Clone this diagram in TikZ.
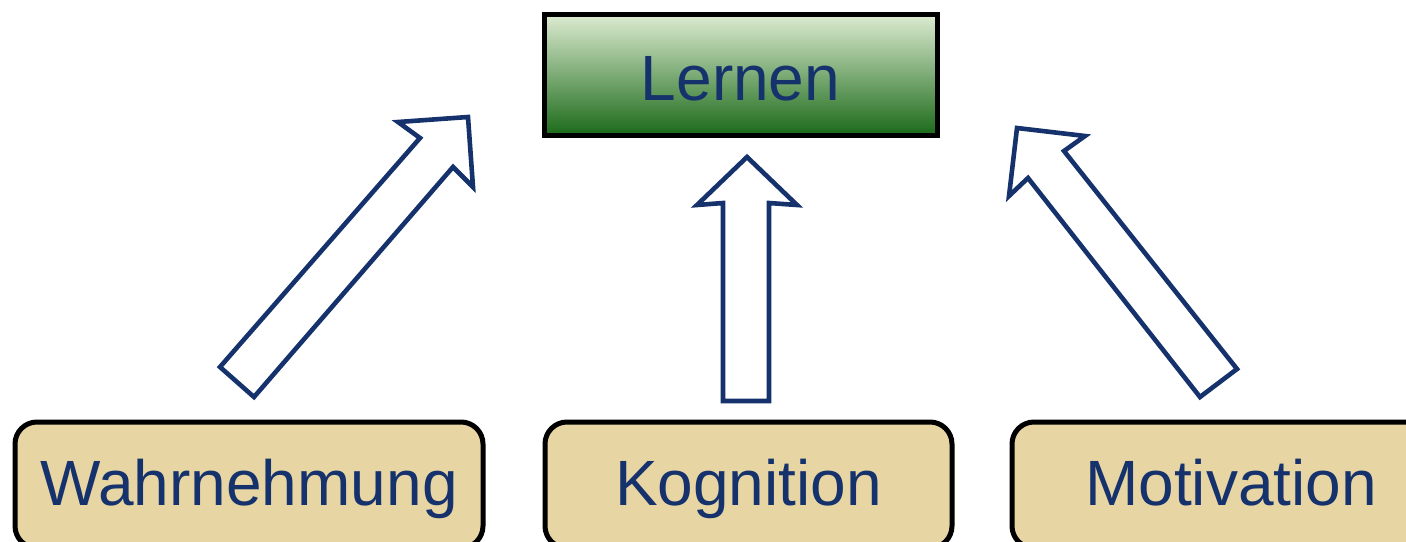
\documentclass[tikz,border=0pt]{standalone}
\usepackage{fontspec}
\newfontfamily\lsans{Liberation Sans}
\usetikzlibrary{shadings}
\definecolor{navy}{RGB}{22,50,108}
\definecolor{papyrus}{RGB}{232,213,164}
\definecolor{gtop}{RGB}{222,236,210}
\definecolor{gmid}{RGB}{168,193,126}
\definecolor{gbot}{RGB}{27,106,25}
\tikzset{
  lbl/.style={font=\lsans\fontsize{64}{76}\selectfont, text=navy, inner sep=0pt, text depth=0pt},
  topbox/.style={lbl, draw=black, line width=5pt, top color=gtop, middle color=gmid, bottom color=gbot,
    minimum width=393pt, minimum height=121pt, text height=51pt},
  basebox/.style={lbl, draw=black, line width=5pt, fill=papyrus, rounded corners=22pt,
    minimum height=126pt, text height=40pt},
  blockarrow/.style={draw=navy, line width=4.6pt, fill=white, line join=miter},
}
\begin{document}
\begin{tikzpicture}[x=1pt,y=-1pt]
\clip (0,0) rectangle (1406,541);
\fill[white] (0,0) rectangle (1406,541);
% top box
\node[topbox] (lernen) at (740.5,74.5) {Lernen};
% bottom boxes
\node[basebox, minimum width=468pt] (wahr) at (249,485) {Wahrnehmung};
\node[basebox, minimum width=407pt] (kogn) at (748.5,485) {Kognition};
\node[basebox, minimum width=438pt] (moti) at (1231,485) {Motivation};
% block arrows
\draw[blockarrow] (220,367) -- (420,138) -- (398,122) -- (468,117) -- (473,187) -- (453,167) -- (254,397) -- cycle;
\draw[blockarrow] (723,401) -- (723,203) -- (697,205) -- (747,157) -- (797,205) -- (769,203) -- (769,401) -- cycle;
\draw[blockarrow] (1200,397) -- (1028,178) -- (1009,196) -- (1017,128) -- (1085,136) -- (1064,151) -- (1237,369) -- cycle;
\end{tikzpicture}
\end{document}
